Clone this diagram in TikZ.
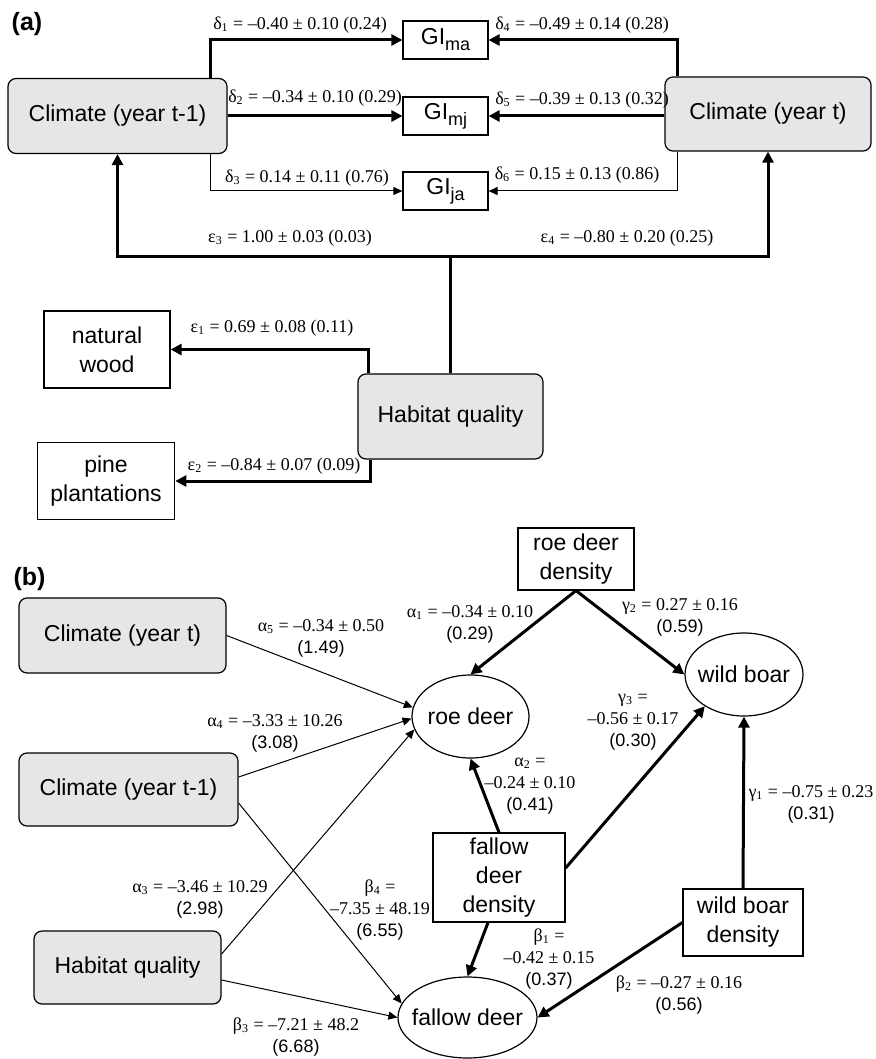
\documentclass[tikz,border=0pt]{standalone}
\usepackage{fontspec}
\setmainfont{Liberation Sans}
\newfontfamily\labserif{Liberation Serif}
\usepackage{tikz}
\usetikzlibrary{arrows.meta, shapes.geometric, calc}

\definecolor{boxgray}{RGB}{229,230,231}
\newcommand{\pv}[1]{{\rmfamily(#1)}}
\newcommand{\gisub}[1]{GI\raisebox{-0.5ex}{\fontsize{9}{9}\selectfont #1}}
\newcommand{\inell}[1]{\makebox[0pt]{#1}}

\begin{document}
\begin{tikzpicture}[x=0.5pt, y=-0.5pt,
  obsbox/.style={draw, line width=0.6pt, inner sep=0pt, align=center, font=\fontsize{11.5}{14.5}\selectfont},
  latbox/.style={obsbox, rounded corners=4pt, fill=boxgray},
  ellnode/.style={draw, ellipse, line width=0.6pt, inner sep=0pt, font=\fontsize{11.5}{14}\selectfont},
  thk/.style={line width=1.5pt, -{Triangle[length=5.5pt,width=5.5pt]}},
  thn/.style={line width=0.5pt, -{Triangle[length=4.5pt,width=4pt]}},
  lab/.style={font=\labserif\fontsize{9}{11}\selectfont, inner sep=0pt, align=center},
  panel/.style={font=\bfseries\fontsize{12.5}{12.5}\selectfont, inner sep=0pt}]
\useasboundingbox (0,0) rectangle (876,1059);

% panel (a)
\node[panel] (pa) at (27,24) {(a)};
\node[latbox, minimum width=109.5pt, minimum height=37.5pt] (cm1) at (117.5,116) {Climate (year t-1)};
\node[latbox, minimum width=103pt, minimum height=37pt] (ct) at (768,114) {Climate (year t)};
\node[obsbox, minimum width=42.5pt, minimum height=19pt] (gma) at (445.5,40) {\gisub{ma}};
\node[obsbox, minimum width=42.5pt, minimum height=19pt] (gmj) at (445.5,116) {\gisub{mj}};
\node[obsbox, minimum width=42.5pt, minimum height=19pt] (gja) at (445.5,191) {\gisub{ja}};
\node[obsbox, minimum width=63pt, minimum height=38.5pt] (nw) at (107,349.5) {natural\\wood};
\node[obsbox, minimum width=68.75pt, minimum height=38.25pt] (pp) at (106,481) {pine\\plantations};
\node[latbox, minimum width=92.5pt, minimum height=42.5pt] (hqa) at (450.5,416.5) {Habitat quality};
\coordinate (jn) at (450.5,256);

\draw[thk] ([xshift=-8.5pt]cm1.north east) |- (gma.west);
\draw[thk] (cm1.east) -- (gmj.west);
\draw[thn] ([xshift=-8.5pt]cm1.south east) |- (gja.west);
\draw[thk] ([xshift=6.5pt]ct.north west) |- (gma.east);
\draw[thk] (ct.west |- gmj) -- (gmj.east);
\draw[thn] ([xshift=6.5pt]ct.south west) |- (gja.east);
\draw[line width=1.5pt] (hqa.north) -- (jn);
\draw[thk] (jn) -| (cm1.south);
\draw[thk] (jn) -| (ct.south);
\draw[thk] ([xshift=5.5pt]hqa.north west) |- (nw.east);
\draw[thk] ([xshift=6.5pt]hqa.south west) |- (pp.east);

\node[lab] (ld1) at (300,25) {δ\textsubscript{1} = –0.40 ± 0.10 (0.24)};
\node[lab] (ld2) at (315,98) {δ\textsubscript{2} = –0.34 ± 0.10 (0.29)};
\node[lab] (ld3) at (307,178) {δ\textsubscript{3} = 0.14 ± 0.11 (0.76)};
\node[lab] (ld4) at (582,25) {δ\textsubscript{4} = –0.49 ± 0.14 (0.28)};
\node[lab] (ld5) at (582,100) {δ\textsubscript{5} = –0.39 ± 0.13 (0.32)};
\node[lab] (ld6) at (577,175) {δ\textsubscript{6} = 0.15 ± 0.13 (0.86)};
\node[lab] (le3) at (290,238) {ε\textsubscript{3} = 1.00 ± 0.03 (0.03)};
\node[lab] (le4) at (627,238) {ε\textsubscript{4} = –0.80 ± 0.20 (0.25)};
\node[lab] (le1) at (272,328) {ε\textsubscript{1} = 0.69 ± 0.08 (0.11)};
\node[lab] (le2) at (274,466) {ε\textsubscript{2} = –0.84 ± 0.07 (0.09)};

% panel (b)
\node[panel] (pb) at (29.5,579) {(b)};
\node[obsbox, minimum width=58pt, minimum height=31pt] (rdd) at (576,559) {roe deer\\density};
\node[obsbox, minimum width=66pt, minimum height=44.5pt] (fdd) at (499,877.5) {fallow\\deer\\density};
\node[obsbox, minimum width=60pt, minimum height=33.5pt] (wbd) at (743,922.5) {wild boar\\density};
\node[latbox, minimum width=103.5pt, minimum height=37.5pt] (ctb) at (122.5,635.5) {Climate (year t)};
\node[latbox, minimum width=109.5pt, minimum height=36.5pt] (cmb) at (128.5,789.5) {Climate (year t-1)};
\node[latbox, minimum width=93.5pt, minimum height=36.5pt] (hqb) at (127.5,967.5) {Habitat quality};
\node[ellnode, minimum width=58.5pt, minimum height=41.5pt] (rd) at (470.5,716.5) {\inell{roe deer}};
\node[ellnode, minimum width=59pt, minimum height=41.5pt] (wb) at (744,674.5) {\inell{wild boar}};
\node[ellnode, minimum width=69.5pt, minimum height=40.5pt] (fd) at (467.5,1017.5) {\inell{fallow deer}};

\draw[thn] (ctb.east) -- (rd.171);
\draw[thn] ($(cmb.east)+(0,-12.5)$) -- (rd.182);
\draw[thn] ($(hqb.east)+(0,-13.5)$) -- (rd.193);
\draw[thn] ($(cmb.east)+(0,13.5)$) -- (fd.168);
\draw[thn] ($(hqb.east)+(0,12.5)$) -- (fd.west);
\draw[thk] (rdd.south) -- (rd.north);
\draw[thk] (rdd.south) -- (wb.west);
\draw[thk] (fdd.north) -- (rd.south);
\draw[thk] ($(fdd.east)+(0,-9.5)$) -- (wb.219);
\draw[thk] ($(fdd.south)+(-11,0)$) -- (fd.north);
\draw[thk] (wbd.west) -- (fd.east);
\draw[thk] (wbd.north) -- (wb.south);

\node[lab] (la5) at (321,638) {α\textsubscript{5} = –0.34 ± 0.50\\\pv{1.49}};
\node[lab] (la4) at (275,733) {α\textsubscript{4} = –3.33 ± 10.26\\\pv{3.08}};
\node[lab] (la1) at (470,624) {α\textsubscript{1} = –0.34 ± 0.10\\\pv{0.29}};
\node[lab] (lg2) at (680,617) {γ\textsubscript{2} = 0.27 ± 0.16\\\pv{0.59}};
\node[lab] (lg3) at (633,722) {γ\textsubscript{3} =\\–0.56 ± 0.17\\\pv{0.30}};
\node[lab] (la2) at (530,786) {α\textsubscript{2} =\\–0.24 ± 0.10\\\pv{0.41}};
\node[lab] (lg1) at (811,804) {γ\textsubscript{1} = –0.75 ± 0.23\\\pv{0.31}};
\node[lab] (la3) at (200,899) {α\textsubscript{3} = –3.46 ± 10.29\\\pv{2.98}};
\node[lab] (lb4) at (380,910) {β\textsubscript{4} =\\–7.35 ± 48.19\\\pv{6.55}};
\node[lab] (lb3) at (296,1037) {β\textsubscript{3} = –7.21 ± 48.2\\\pv{6.68}};
\node[lab] (lb1) at (549,959) {β\textsubscript{1} =\\–0.42 ± 0.15\\\pv{0.37}};
\node[lab] (lb2) at (679,995) {β\textsubscript{2} = –0.27 ± 0.16\\\pv{0.56}};
\end{tikzpicture}
\end{document}
